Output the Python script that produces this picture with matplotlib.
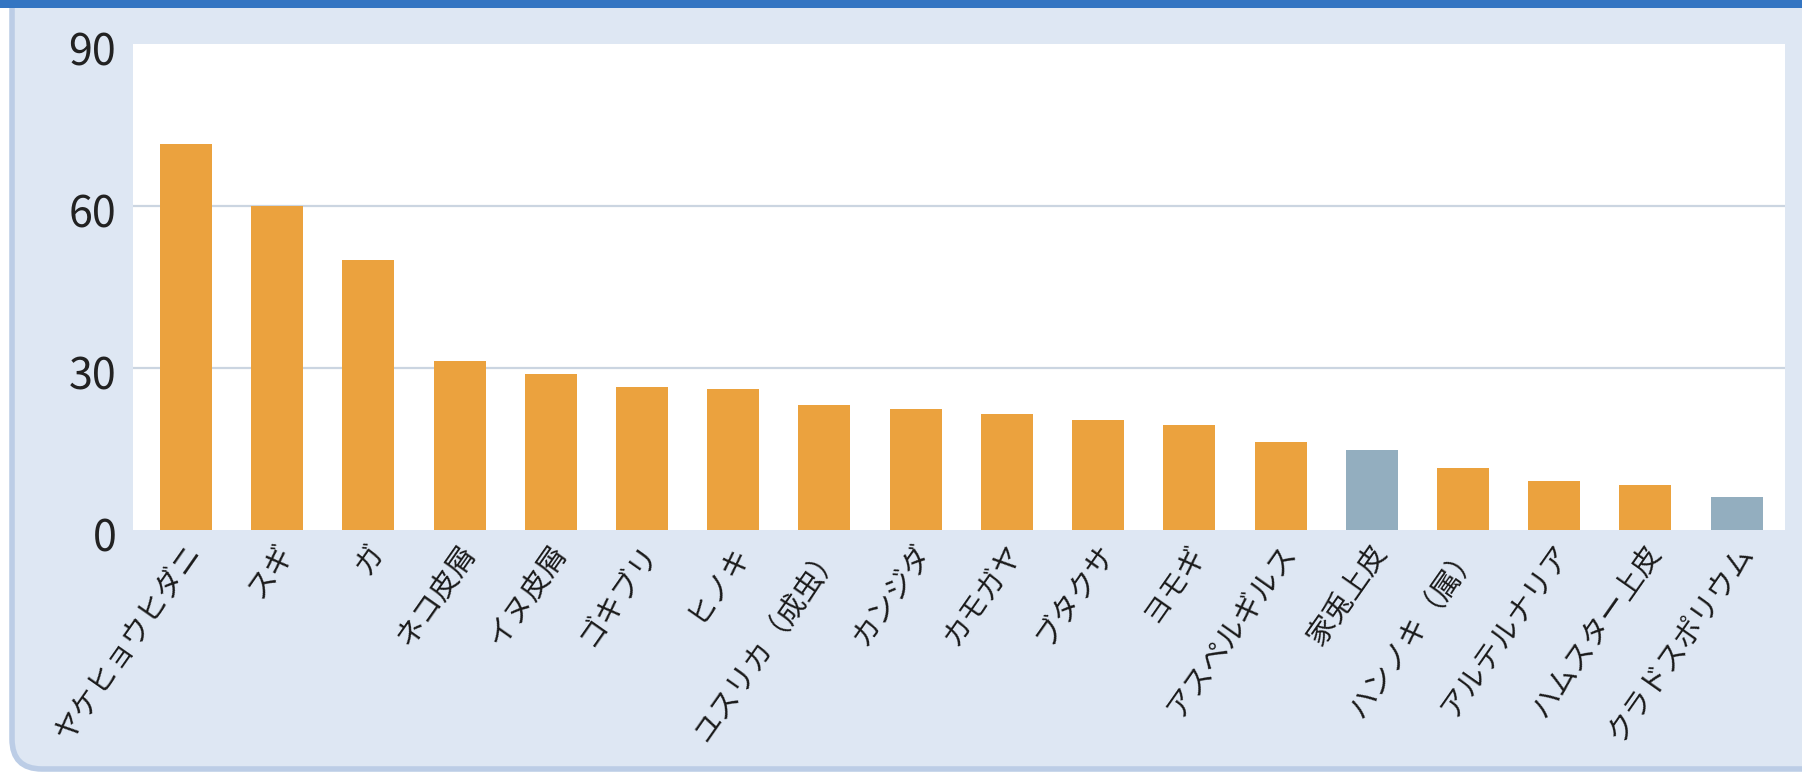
import matplotlib
matplotlib.use("Agg")
import matplotlib.pyplot as plt
from matplotlib.patches import FancyBboxPatch, Rectangle
from matplotlib.transforms import ScaledTranslation

plt.rcParams['font.family'] = ['Noto Sans CJK JP', 'DejaVu Sans']

categories = ["ヤケヒョウヒダニ", "スギ", "ガ", "ネコ皮屑", "イヌ皮屑", "ゴキブリ", "ヒノキ",
              "ユスリカ（成虫）", "カンジダ", "カモガヤ", "ブタクサ", "ヨモギ", "アスペルギルス",
              "家兎上皮", "ハンノキ（属）", "アルテルナリア", "ハムスター上皮", "クラドスポリウム"]
values = [71.4, 60.0, 50.0, 31.3, 28.9, 26.4, 26.1, 23.1, 22.5, 21.4, 20.4, 19.5, 16.3,
          14.8, 11.4, 9.0, 8.4, 6.2]
groups = ["a"] * 13 + ["b"] + ["a"] * 3 + ["b"]
yticks = [0, 30, 60, 90]

colors = {"a": "#EBA23E", "b": "#93AEBF"}

fig = plt.figure(figsize=(18.02, 7.76), dpi=100)
fig.patch.set_facecolor("white")

# background axes in pixel units
bg = fig.add_axes([0, 0, 1, 1], zorder=-5)
bg.set_xlim(0, 1802)
bg.set_ylim(0, 776)
bg.axis("off")
bg.add_patch(FancyBboxPatch((12, 7), 1900, 900,
                            boxstyle="round,pad=0,rounding_size=30",
                            facecolor="#DEE7F3", edgecolor="#BCCDE6", linewidth=4))
bg.add_patch(Rectangle((0, 768), 1802, 8, facecolor="#3375C2", edgecolor="none"))

ax = fig.add_axes([133/1802, 1 - 530/776, (1785 - 133)/1802, (530 - 44)/776])
ax.set_facecolor("white")
x = list(range(len(categories)))
ax.bar(x, values, width=0.57, color=[colors[g] for g in groups], zorder=3)
ax.set_xlim(-0.58, 17.53)
ax.set_ylim(0, 90)
ax.set_yticks(yticks)
ax.set_yticklabels([str(v) for v in yticks], fontsize=31, color="#222222")
for v in yticks[1:3]:
    ax.axhline(v, color="#CBD5E1", linewidth=1.6, zorder=1)
ax.set_xticks(x)
ax.set_xticklabels(categories, rotation=55, ha="right", va="center",
                   rotation_mode="anchor", fontsize=21, color="#1a1a1a")
ax.tick_params(axis="both", length=0)
ax.tick_params(axis="y", pad=12)
ax.tick_params(axis="x", pad=12.5)
xshift = ScaledTranslation(10 / 100, 0, fig.dpi_scale_trans)
for lbl in ax.get_xticklabels():
    lbl.set_transform(lbl.get_transform() + xshift)
yshift = ScaledTranslation(0, -4 / 100, fig.dpi_scale_trans)
for lbl in ax.get_yticklabels():
    lbl.set_transform(lbl.get_transform() + yshift)
for s in ax.spines.values():
    s.set_visible(False)

fig.savefig("out.png", dpi=100, facecolor=fig.get_facecolor())
